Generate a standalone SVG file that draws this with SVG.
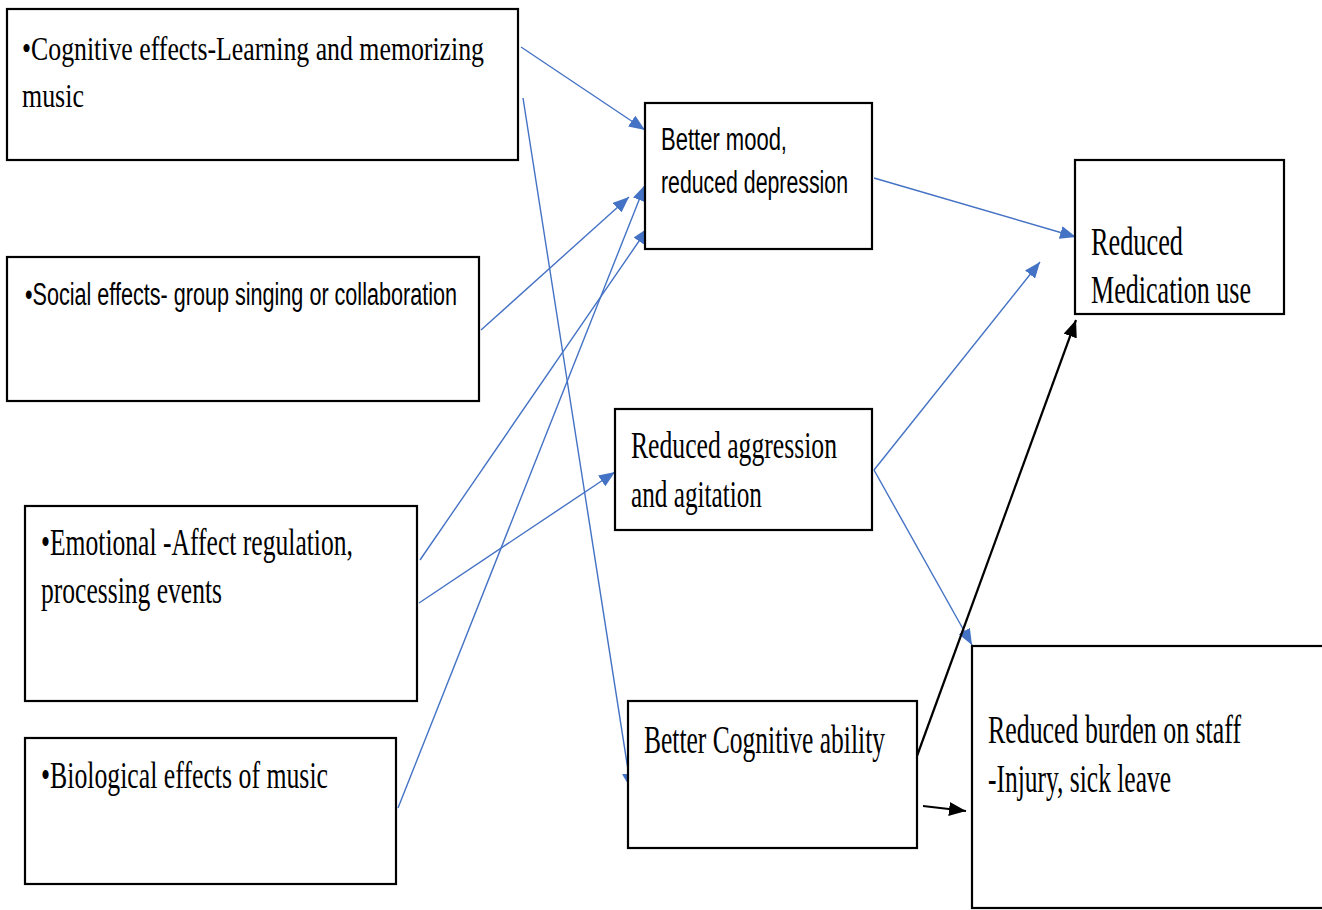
<svg xmlns="http://www.w3.org/2000/svg" width="1322" height="910" viewBox="0 0 1322 910">
<style>
.box{fill:#fff;stroke:#000;stroke-width:2.2}
.serif{font-family:"Liberation Serif","Times New Roman",serif;fill:#000}
.sans{font-family:"Liberation Sans",Arial,sans-serif;fill:#000}
.blue{stroke:#4472C4;stroke-width:1.4;fill:none}
.black{stroke:#000;stroke-width:2.2;fill:none}
</style>
<defs>
<marker id="ab" markerUnits="userSpaceOnUse" markerWidth="17" markerHeight="13" refX="16" refY="6.5" orient="auto"><path d="M0,0 L16,6.5 L0,13 z" fill="#4472C4"/></marker>
<marker id="ak" markerUnits="userSpaceOnUse" markerWidth="18" markerHeight="14" refX="17" refY="7" orient="auto"><path d="M0,0 L17,7 L0,14 z" fill="#000"/></marker>
</defs>
<rect width="1322" height="910" fill="#fff"/>
<g id="connectors">
<line class="blue" x1="521" y1="47" x2="645" y2="130" marker-end="url(#ab)"/>
<line class="blue" x1="523" y1="98" x2="631" y2="789" marker-end="url(#ab)"/>
<line class="blue" x1="481" y1="330" x2="629" y2="197" marker-end="url(#ab)"/>
<line class="blue" x1="420" y1="560" x2="648" y2="228" marker-end="url(#ab)"/>
<line class="blue" x1="398" y1="808" x2="645" y2="185" marker-end="url(#ab)"/>
<line class="blue" x1="419" y1="603" x2="615" y2="472" marker-end="url(#ab)"/>
<line class="blue" x1="874" y1="178" x2="1076" y2="237" marker-end="url(#ab)"/>
<line class="blue" x1="874" y1="470" x2="1040" y2="262" marker-end="url(#ab)"/>
<line class="blue" x1="874" y1="470" x2="972" y2="645" marker-end="url(#ab)"/>
<line class="black" x1="917" y1="756" x2="1076" y2="320" marker-end="url(#ak)"/>
<line class="black" x1="923" y1="806" x2="966" y2="811" marker-end="url(#ak)"/>
</g>
<g id="n1"><rect class="box" x="7" y="9" width="511" height="151"/>
<text class="serif" font-size="34" transform="translate(22,60) scale(0.72,1)" textLength="641.7" lengthAdjust="spacingAndGlyphs">•Cognitive effects-Learning and memorizing</text>
<text class="serif" font-size="34" transform="translate(22,107) scale(0.72,1)" textLength="86" lengthAdjust="spacingAndGlyphs">music</text></g>
<g id="n2"><rect class="box" x="7" y="257" width="472" height="144"/>
<text class="sans" font-size="31" transform="translate(25,305) scale(0.75,1)" textLength="576" lengthAdjust="spacingAndGlyphs">•Social effects- group singing or collaboration</text></g>
<g id="n3"><rect class="box" x="25" y="506" width="392" height="195"/>
<text class="serif" font-size="37" transform="translate(41,555) scale(0.72,1)" textLength="433.3" lengthAdjust="spacingAndGlyphs">•Emotional -Affect regulation,</text>
<text class="serif" font-size="37" transform="translate(41,603) scale(0.72,1)" textLength="251.4" lengthAdjust="spacingAndGlyphs">processing events</text></g>
<g id="n4"><rect class="box" x="25" y="738" width="371" height="146"/>
<text class="serif" font-size="37" transform="translate(41,788) scale(0.72,1)" textLength="398.6" lengthAdjust="spacingAndGlyphs">•Biological  effects of music</text></g>
<g id="n5"><rect class="box" x="645" y="103" width="227" height="146"/>
<text class="sans" font-size="31" transform="translate(661,150) scale(0.75,1)" textLength="168" lengthAdjust="spacingAndGlyphs">Better mood,</text>
<text class="sans" font-size="31" transform="translate(661,193) scale(0.75,1)" textLength="249.3" lengthAdjust="spacingAndGlyphs">reduced depression</text></g>
<g id="n6"><rect class="box" x="615" y="409" width="257" height="121"/>
<text class="serif" font-size="38" transform="translate(631,458) scale(0.72,1)" textLength="286.1" lengthAdjust="spacingAndGlyphs">Reduced aggression</text>
<text class="serif" font-size="38" transform="translate(631,507) scale(0.72,1)" textLength="181.9" lengthAdjust="spacingAndGlyphs">and agitation</text></g>
<g id="n7"><rect class="box" x="628" y="701" width="289" height="147"/>
<text class="serif" font-size="39" transform="translate(644,753) scale(0.72,1)" textLength="334.7" lengthAdjust="spacingAndGlyphs">Better Cognitive ability</text></g>
<g id="n8"><rect class="box" x="1075" y="160" width="209" height="154"/>
<text class="serif" font-size="40" transform="translate(1091,255) scale(0.72,1)" textLength="127.8" lengthAdjust="spacingAndGlyphs">Reduced</text>
<text class="serif" font-size="40" transform="translate(1091,303) scale(0.72,1)" textLength="222.2" lengthAdjust="spacingAndGlyphs">Medication use</text></g>
<g id="n9"><rect class="box" x="972" y="646" width="360" height="262"/>
<text class="serif" font-size="39" transform="translate(988,743) scale(0.72,1)" textLength="351.4" lengthAdjust="spacingAndGlyphs">Reduced burden on staff</text>
<text class="serif" font-size="39" transform="translate(988,792) scale(0.72,1)" textLength="254.2" lengthAdjust="spacingAndGlyphs">-Injury, sick leave</text></g>
</svg>
